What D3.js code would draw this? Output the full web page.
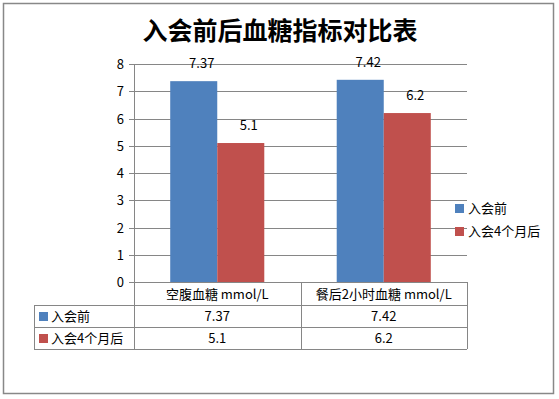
<!DOCTYPE html>
<html>
<head>
<meta charset="utf-8">
<script src="https://cdn.jsdelivr.net/npm/d3@7"></script>
<style>
body { margin: 0; background: #fff; }
text { font-family: "Noto Sans CJK SC", "DejaVu Sans", sans-serif; }
</style>
</head>
<body>
<script>
var categories = ["空腹血糖 mmol/L", "餐后2小时血糖 mmol/L"];
var seriesNames = ["入会前", "入会4个月后"];
var before = [7.37, 7.42];
var after = [5.1, 6.2];
var yTicks = [0, 1, 2, 3, 4, 5, 6, 7, 8];
var colors = ["#4f81bd", "#c0504d"];

var series = [before, after];

var W = 559, H = 399;
var svg = d3.select("body").append("svg")
    .attr("width", W)
    .attr("height", H);

// outer frame
svg.append("rect")
    .attr("x", 3.5).attr("y", 3.5)
    .attr("width", 550).attr("height", 390)
    .attr("fill", "#fff")
    .attr("stroke", "#888")
    .attr("stroke-width", 1.5);

// title
svg.append("text")
    .attr("x", 280).attr("y", 40)
    .attr("text-anchor", "middle")
    .style("font-size", "25px")
    .style("font-weight", "bold")
    .text("入会前后血糖指标对比表");

var plotLeft = 134, plotRight = 467, plotTop = 64, plotBottom = 282;

var x = d3.scaleBand()
    .domain(categories)
    .range([plotLeft, plotRight]);

var xInner = d3.scaleBand()
    .domain(seriesNames)
    .range([0, x.bandwidth()])
    .paddingInner(0)
    .paddingOuter(0.77);

var y = d3.scaleLinear()
    .domain([0, 8])
    .range([plotBottom, plotTop]);

// gridlines
svg.append("g")
    .selectAll("line")
    .data(yTicks)
    .enter().append("line")
    .attr("x1", plotLeft - 5)
    .attr("x2", plotRight)
    .attr("y1", function (d) { return Math.round(y(d)) + 0.5; })
    .attr("y2", function (d) { return Math.round(y(d)) + 0.5; })
    .attr("stroke", "#868686")
    .attr("stroke-width", 1);

// y axis line
svg.append("line")
    .attr("x1", plotLeft + 0.5).attr("x2", plotLeft + 0.5)
    .attr("y1", plotTop).attr("y2", plotBottom)
    .attr("stroke", "#868686");

// y tick labels
svg.append("g")
    .selectAll("text")
    .data(yTicks)
    .enter().append("text")
    .attr("x", 124)
    .attr("y", function (d) { return y(d) + 5; })
    .attr("text-anchor", "end")
    .style("font-size", "13px")
    .text(function (d) { return d; });

// bars
series.forEach(function (vals, si) {
    var g = svg.append("g");
    g.selectAll("rect")
        .data(vals)
        .enter().append("rect")
        .attr("x", function (d, i) { return x(categories[i]) + xInner(seriesNames[si]); })
        .attr("y", function (d) { return y(d); })
        .attr("width", xInner.bandwidth())
        .attr("height", function (d) { return plotBottom - y(d); })
        .attr("fill", colors[si]);
    g.selectAll("text")
        .data(vals)
        .enter().append("text")
        .attr("x", function (d, i) { return x(categories[i]) + xInner(seriesNames[si]) + xInner.bandwidth() / 2 + 8; })
        .attr("y", function (d) { return y(d) - 13; })
        .attr("text-anchor", "middle")
        .style("font-size", "13px")
        .text(function (d) { return d; });
});

// data table
var tableLeft = 34;
var rows = [plotBottom, plotBottom + 23, plotBottom + 45, plotBottom + 67];
var tg = svg.append("g").attr("stroke", "#868686").attr("fill", "none");
// horizontal lines
tg.append("line").attr("x1", plotLeft).attr("x2", plotRight).attr("y1", rows[0] + 0.5).attr("y2", rows[0] + 0.5);
[1, 2, 3].forEach(function (r) {
    tg.append("line").attr("x1", tableLeft).attr("x2", plotRight)
        .attr("y1", rows[r] + 0.5).attr("y2", rows[r] + 0.5);
});
// vertical lines
tg.append("line").attr("x1", tableLeft + 0.5).attr("x2", tableLeft + 0.5).attr("y1", rows[1]).attr("y2", rows[3]);
[plotLeft, x(categories[1]), plotRight].forEach(function (xx) {
    tg.append("line").attr("x1", Math.round(xx) + 0.5).attr("x2", Math.round(xx) + 0.5)
        .attr("y1", rows[0]).attr("y2", rows[3]);
});

// category labels
svg.append("g").selectAll("text")
    .data(categories)
    .enter().append("text")
    .attr("x", function (d) { return x(d) + x.bandwidth() / 2; })
    .attr("y", rows[0] + 17)
    .attr("text-anchor", "middle")
    .style("font-size", "13px")
    .text(function (d) { return d; });

// table rows
series.forEach(function (vals, si) {
    var ry = rows[si + 1];
    svg.append("rect")
        .attr("x", 39).attr("y", ry + 7)
        .attr("width", 9).attr("height", 9)
        .attr("fill", colors[si]);
    svg.append("text")
        .attr("x", 51).attr("y", ry + 16)
        .style("font-size", "13px")
        .text(seriesNames[si]);
    svg.append("g").selectAll("text")
        .data(vals)
        .enter().append("text")
        .attr("x", function (d, i) { return x(categories[i]) + x.bandwidth() / 2; })
        .attr("y", ry + 16)
        .attr("text-anchor", "middle")
        .style("font-size", "13px")
        .text(function (d) { return d; });
});

// legend
seriesNames.forEach(function (name, si) {
    var ly = 204 + si * 23;
    svg.append("rect")
        .attr("x", 455).attr("y", ly)
        .attr("width", 9).attr("height", 9)
        .attr("fill", colors[si]);
    svg.append("text")
        .attr("x", 468).attr("y", ly + 9)
        .style("font-size", "13px")
        .text(name);
});
</script>
</body>
</html>
